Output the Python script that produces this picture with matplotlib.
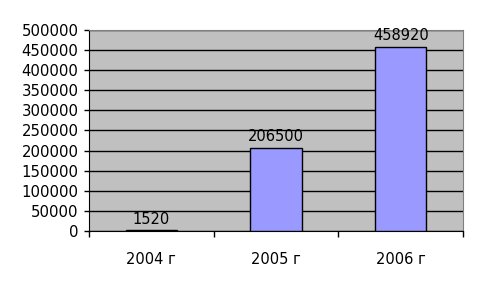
import matplotlib.pyplot as plt
from matplotlib.ticker import FixedLocator

years = ["2004 г", "2005 г", "2006 г"]
values = [1520, 206500, 458920]

fig = plt.figure(figsize=(4.78, 2.84), dpi=100)
ax = fig.add_axes([0.186, 0.187, 0.783, 0.707])
ax.set_facecolor("#C0C0C0")

x = range(len(years))
bars = ax.bar(x, values, width=0.41, color="#9999FF", edgecolor="black", linewidth=1, zorder=3)

ax.set_xlim(-0.5, 2.5)
ax.set_ylim(0, 500000)
ax.set_yticks(range(0, 500001, 50000))
ax.yaxis.grid(True, color="black", linewidth=1, zorder=1)
ax.set_axisbelow(True)

# category labels in the middle, tick marks between categories
ax.set_xticks(list(x))
ax.set_xticklabels(years, fontsize=10.5)
ax.tick_params(axis="x", which="major", length=0, pad=15)
ax.xaxis.set_minor_locator(FixedLocator([-0.5, 0.5, 1.5, 2.5]))
ax.tick_params(axis="x", which="minor", length=4, width=1, color="black")
ax.tick_params(axis="y", length=3.5, width=1, labelsize=10.7, pad=4)

for b, v in zip(bars, values):
    ax.text(b.get_x() + b.get_width() / 2, v + 9000, str(v),
            ha="center", va="bottom", fontsize=10.5)

ax.spines["top"].set_color("#808080")
ax.spines["right"].set_color("#808080")
ax.spines["left"].set_color("black")
ax.spines["bottom"].set_color("black")

fig.savefig("out.png", dpi=100, facecolor="white")
